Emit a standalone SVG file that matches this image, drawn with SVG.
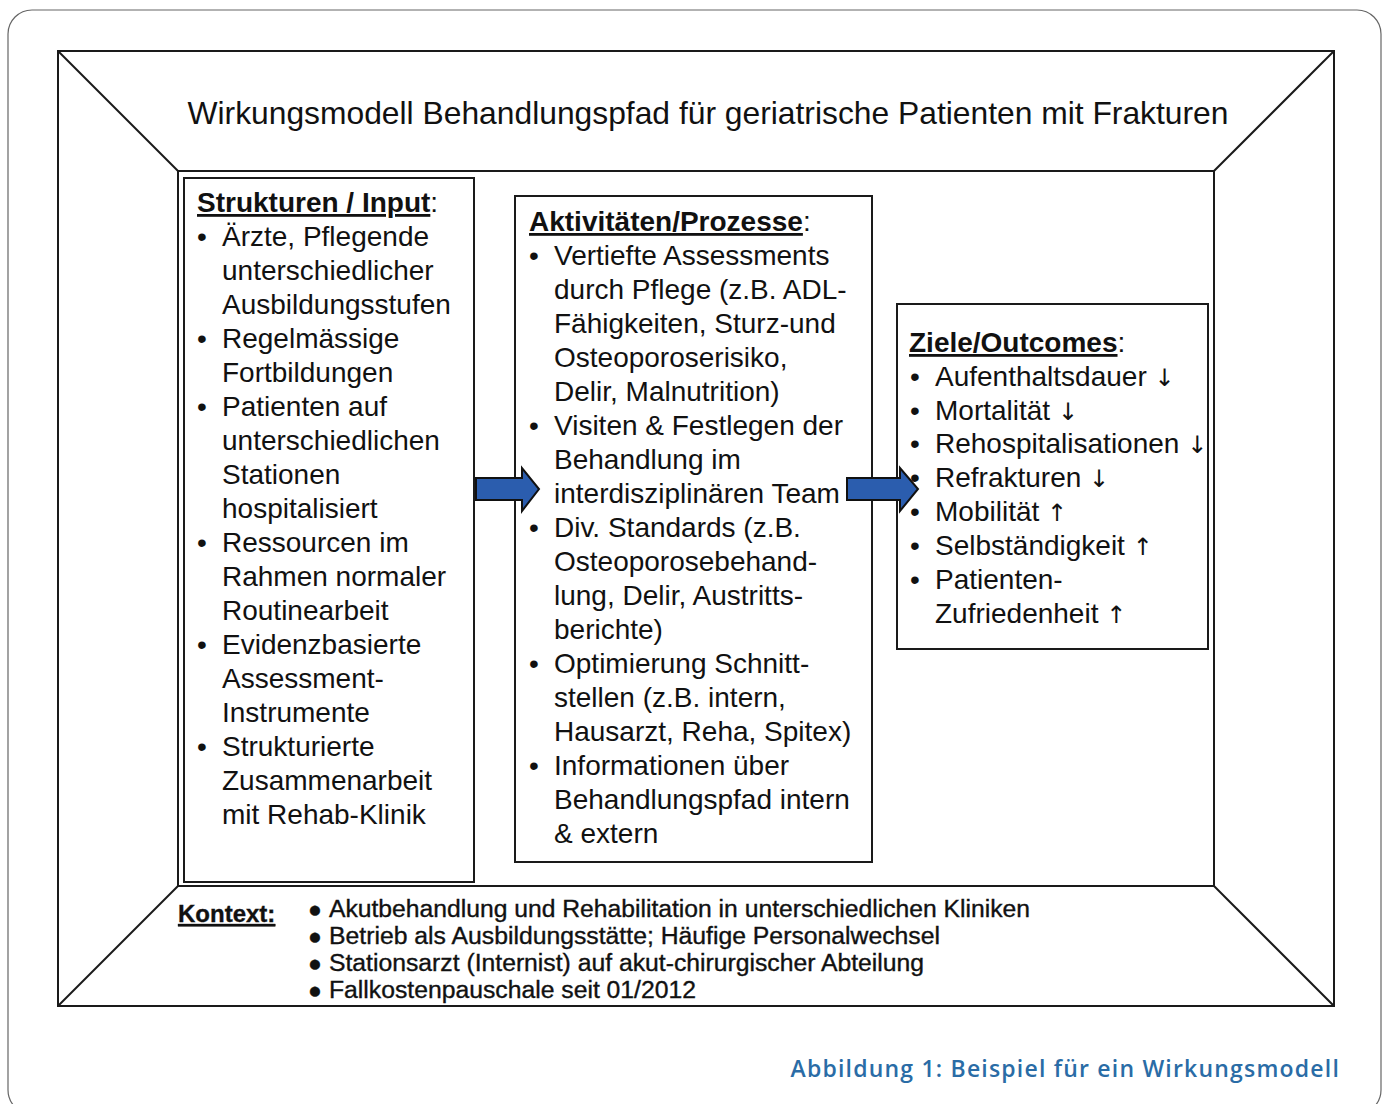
<svg xmlns="http://www.w3.org/2000/svg" width="1384" height="1104" viewBox="0 0 1384 1104">
<defs>
<style>
.frame{fill:none;stroke:#1a1a1a;stroke-width:2}
.box{fill:#fff;stroke:#1a1a1a;stroke-width:2}
.t{font-family:"Liberation Sans",Arial,sans-serif;font-size:28px;fill:#111}
.h{font-weight:bold;text-decoration:underline}
.ar{font-family:"DejaVu Sans",sans-serif;font-size:24px;fill:#111}
.k{font-family:"Liberation Sans",Arial,sans-serif;font-size:23px;fill:#111;stroke:#111;stroke-width:0.35}
.arrow{fill:#2B5DAE;stroke:#111;stroke-width:2;stroke-linejoin:miter}
.cap{font-family:"Open Sans","Noto Sans",sans-serif;font-size:23px;font-weight:600;fill:#2A6CA6;letter-spacing:1.2px}
</style>
</defs>
<rect x="8" y="10" width="1373" height="1104" rx="24" fill="#fff" stroke="#666" stroke-width="1.2"/>
<g id="frame">
<rect class="frame" x="58" y="51" width="1276" height="955"/>
<rect class="frame" x="178" y="171" width="1036" height="715"/>
<line class="frame" x1="58" y1="51" x2="178" y2="171"/>
<line class="frame" x1="1334" y1="51" x2="1214" y2="171"/>
<line class="frame" x1="58" y1="1006" x2="178" y2="886"/>
<line class="frame" x1="1334" y1="1006" x2="1214" y2="886"/>
<text class="t" x="708" y="124" text-anchor="middle" style="font-size:31.8px">Wirkungsmodell Behandlungspfad für geriatrische Patienten mit Frakturen</text>
</g>
<g id="input">
<rect class="box" x="184" y="178" width="290" height="704"/>
<text class="t" x="197" y="212"><tspan class="h">Strukturen / Input</tspan>:</text>
<text class="t" x="197" y="246">•</text><text class="t" x="222" y="246">Ärzte, Pflegende</text>
<text class="t" x="222" y="280">unterschiedlicher</text>
<text class="t" x="222" y="314">Ausbildungsstufen</text>
<text class="t" x="197" y="348">•</text><text class="t" x="222" y="348">Regelmässige</text>
<text class="t" x="222" y="382">Fortbildungen</text>
<text class="t" x="197" y="416">•</text><text class="t" x="222" y="416">Patienten auf</text>
<text class="t" x="222" y="450">unterschiedlichen</text>
<text class="t" x="222" y="484">Stationen</text>
<text class="t" x="222" y="518">hospitalisiert</text>
<text class="t" x="197" y="552">•</text><text class="t" x="222" y="552">Ressourcen im</text>
<text class="t" x="222" y="586">Rahmen normaler</text>
<text class="t" x="222" y="620">Routinearbeit</text>
<text class="t" x="197" y="654">•</text><text class="t" x="222" y="654">Evidenzbasierte</text>
<text class="t" x="222" y="688">Assessment-</text>
<text class="t" x="222" y="722">Instrumente</text>
<text class="t" x="197" y="756">•</text><text class="t" x="222" y="756">Strukturierte</text>
<text class="t" x="222" y="790">Zusammenarbeit</text>
<text class="t" x="222" y="824">mit Rehab-Klinik</text>
</g>
<g id="prozesse">
<rect class="box" x="515" y="196" width="357" height="666"/>
<text class="t" x="529" y="231"><tspan class="h">Aktivitäten/Prozesse</tspan>:</text>
<text class="t" x="529" y="265">•</text><text class="t" x="554" y="265">Vertiefte Assessments</text>
<text class="t" x="554" y="299">durch Pflege (z.B. ADL-</text>
<text class="t" x="554" y="333">Fähigkeiten, Sturz-und</text>
<text class="t" x="554" y="367">Osteoporoserisiko,</text>
<text class="t" x="554" y="401">Delir, Malnutrition)</text>
<text class="t" x="529" y="435">•</text><text class="t" x="554" y="435">Visiten &amp; Festlegen der</text>
<text class="t" x="554" y="469">Behandlung im</text>
<text class="t" x="554" y="503">interdisziplinären Team</text>
<text class="t" x="529" y="537">•</text><text class="t" x="554" y="537">Div. Standards (z.B.</text>
<text class="t" x="554" y="571">Osteoporosebehand-</text>
<text class="t" x="554" y="605">lung, Delir, Austritts-</text>
<text class="t" x="554" y="639">berichte)</text>
<text class="t" x="529" y="673">•</text><text class="t" x="554" y="673">Optimierung Schnitt-</text>
<text class="t" x="554" y="707">stellen (z.B. intern,</text>
<text class="t" x="554" y="741">Hausarzt, Reha, Spitex)</text>
<text class="t" x="529" y="775">•</text><text class="t" x="554" y="775">Informationen über</text>
<text class="t" x="554" y="809">Behandlungspfad intern</text>
<text class="t" x="554" y="843">&amp; extern</text>
</g>
<g id="outcomes">
<rect class="box" x="897" y="304" width="311" height="345"/>
<text class="t" x="909" y="352"><tspan class="h">Ziele/Outcomes</tspan>:</text>
<text class="t" x="910" y="386">•</text><text class="t" x="935" y="386">Aufenthaltsdauer <tspan class="ar">↓</tspan></text>
<text class="t" x="910" y="420">•</text><text class="t" x="935" y="420">Mortalität <tspan class="ar">↓</tspan></text>
<text class="t" x="910" y="453">•</text><text class="t" x="935" y="453">Rehospitalisationen <tspan class="ar">↓</tspan></text>
<text class="t" x="910" y="487">•</text><text class="t" x="935" y="487">Refrakturen <tspan class="ar">↓</tspan></text>
<text class="t" x="910" y="521">•</text><text class="t" x="935" y="521">Mobilität <tspan class="ar">↑</tspan></text>
<text class="t" x="910" y="555">•</text><text class="t" x="935" y="555">Selbständigkeit <tspan class="ar">↑</tspan></text>
<text class="t" x="910" y="589">•</text><text class="t" x="935" y="589">Patienten-</text>
<text class="t" x="935" y="623">Zufriedenheit <tspan class="ar">↑</tspan></text>
</g>
<g id="connectors">
<path class="arrow" d="M476,478 H522 V468 L539,489 L522,511 V500 H476 Z"/>
<path class="arrow" d="M847,478 H900 V468 L918,489 L900,511 V500 H847 Z"/>
</g>
<g id="kontext">
<text class="k" x="178" y="922" font-weight="bold" text-decoration="underline" style="font-size:24px">Kontext:</text>
<text class="k" x="308" y="917">●</text><text class="k" x="329" y="917" textLength="701" lengthAdjust="spacingAndGlyphs">Akutbehandlung und Rehabilitation in unterschiedlichen Kliniken</text>
<text class="k" x="308" y="944">●</text><text class="k" x="329" y="944" textLength="611" lengthAdjust="spacingAndGlyphs">Betrieb als Ausbildungsstätte; Häufige Personalwechsel</text>
<text class="k" x="308" y="971">●</text><text class="k" x="329" y="971" textLength="595" lengthAdjust="spacingAndGlyphs">Stationsarzt (Internist) auf akut-chirurgischer Abteilung</text>
<text class="k" x="308" y="998">●</text><text class="k" x="329" y="998" textLength="367" lengthAdjust="spacingAndGlyphs">Fallkostenpauschale seit 01/2012</text>
</g>
<text class="cap" x="1340" y="1077" text-anchor="end">Abbildung 1: Beispiel für ein Wirkungsmodell</text>
</svg>
